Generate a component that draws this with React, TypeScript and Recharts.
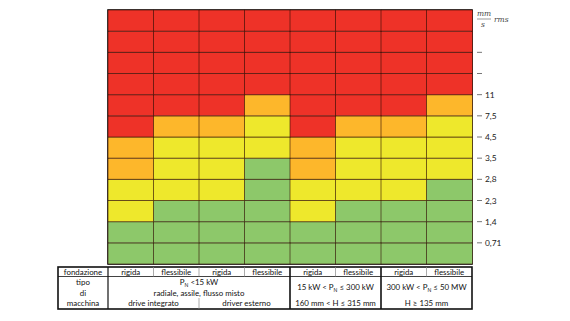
import React from 'react';
import { BarChart, Bar, XAxis, YAxis, Cell, Customized } from 'recharts';

// ---- data ----
const foundations = ['rigida', 'flessibile', 'rigida', 'flessibile', 'rigida', 'flessibile', 'rigida', 'flessibile'];
// number of rows (from bottom) in each zone per column
const greenRows = [2, 3, 3, 5, 2, 3, 3, 4];
const yellowRows = [2, 3, 3, 2, 2, 3, 3, 3];
const orangeRows = [2, 1, 1, 1, 2, 1, 1, 1];
const totalRows = 12;
const yTickValues = [1, 2, 3, 4, 5, 6, 7, 8, 9, 10];
const yTickLabels = ['0,71', '1,4', '2,3', '2,8', '3,5', '4,5', '7,5', '11', '', ''];

const COLORS = { green: '#8DC86A', yellow: '#EEE82C', orange: '#FDB72B', red: '#EE3228' };

const rowKeys = Array.from({ length: totalRows }, (_, i) => `r${i + 1}`);
const data = foundations.map((f, i) => {
  const o: any = { name: `${f}-${i}` };
  rowKeys.forEach((k) => (o[k] = 1));
  return o;
});

const colorFor = (col: number, row: number) => {
  const g = greenRows[col];
  const y = g + yellowRows[col];
  const o = y + orangeRows[col];
  if (row <= g) return COLORS.green;
  if (row <= y) return COLORS.yellow;
  if (row <= o) return COLORS.orange;
  return COLORS.red;
};

// ---- layout ----
const W = 570, H = 321;
const PL = 108, PT = 10, PR = 472, PB = 264;
const colW = (PR - PL) / foundations.length;
const FONT = 'Lato, "Liberation Sans", sans-serif';

const YTick = (props: any) => {
  const { x, y, payload } = props;
  const idx = yTickValues.indexOf(payload.value);
  const label = yTickLabels[idx] ?? '';
  return (
    <g>
      <line x1={x + 5} x2={x + 10} y1={y} y2={y} stroke="#777" strokeWidth={1} />
      <text x={x + 13} y={y} dy={3} fontSize={8.4} fontFamily={FONT} fill="#1a1a1a">
        {label}
      </text>
    </g>
  );
};

const Overlay = () => {
  const tTop = 267, tMid = 276.5, tBot = 309, tLeft = 58;
  const sep1 = PL + 4 * colW;
  const sep2 = PL + 6 * colW;
  const fs = 7.9;
  const txt = (x: number, y: number, s: React.ReactNode, anchor: any = 'middle') => (
    <text x={x} y={y} textAnchor={anchor} fontSize={fs} fontFamily={FONT} fill="#111">
      {s}
    </text>
  );
  return (
    <g>
      {/* outer border and group separators of grid */}
      <rect x={PL} y={PT} width={PR - PL} height={PB - PT} fill="none" stroke="#111" strokeWidth={1.6} />
      <line x1={sep1} x2={sep1} y1={PT} y2={PB} stroke="#111" strokeWidth={1.6} />
      <line x1={sep2} x2={sep2} y1={PT} y2={PB} stroke="#111" strokeWidth={1.6} />

      {/* unit label */}
      <text x={477} y={16} fontSize={7.5} fontStyle="italic" fontFamily="'DejaVu Serif', serif" fill="#444">mm</text>
      <line x1={477} x2={491} y1={19} y2={19} stroke="#555" strokeWidth={0.6} />
      <text x={481} y={27} fontSize={7.5} fontStyle="italic" fontFamily="'DejaVu Serif', serif" fill="#444">s</text>
      <text x={494} y={22} fontSize={7.5} fontStyle="italic" fontFamily="'DejaVu Serif', serif" fill="#444">rms</text>

      {/* table */}
      <rect x={tLeft} y={tTop} width={PR - tLeft} height={tBot - tTop} fill="white" stroke="#111" strokeWidth={1.6} />
      <line x1={tLeft} x2={PR} y1={tMid} y2={tMid} stroke="#111" strokeWidth={0.8} />
      <line x1={PL} x2={PL} y1={tTop} y2={tBot} stroke="#111" strokeWidth={1.2} />
      {foundations.map((_, i) =>
        i > 0 && i !== 4 && i !== 6 ? (
          <line key={i} x1={PL + i * colW} x2={PL + i * colW} y1={tTop} y2={tMid} stroke="#888" strokeWidth={0.7} />
        ) : null
      )}
      <line x1={sep1} x2={sep1} y1={tTop} y2={tBot} stroke="#111" strokeWidth={1.6} />
      <line x1={sep2} x2={sep2} y1={tTop} y2={tBot} stroke="#111" strokeWidth={1.6} />
      <line x1={PL + 2 * colW} x2={PL + 2 * colW} y1={298} y2={tBot} stroke="#888" strokeWidth={0.7} />

      {txt((tLeft + PL) / 2, 274.5, 'fondazione')}
      {foundations.map((f, i) => (
        <React.Fragment key={i}>{txt(PL + (i + 0.5) * colW, 274.5, f)}</React.Fragment>
      ))}
      {txt((tLeft + PL) / 2, 285, 'tipo')}
      {txt((tLeft + PL) / 2, 295.5, 'di')}
      {txt((tLeft + PL) / 2, 306, 'macchina')}

      {txt((PL + sep1) / 2, 285, <>P<tspan fontSize={5} dy={1.5}>N</tspan><tspan dy={-1.5}> &lt;15 kW</tspan></>)}
      {txt((PL + sep1) / 2, 295.5, 'radiale, assile, flusso misto')}
      {txt(PL + colW, 306, 'drive integrato')}
      {txt(PL + 3 * colW + 2, 306, 'driver esterno')}

      {txt((sep1 + sep2) / 2, 290, <>15 kW &lt; P<tspan fontSize={5} dy={1.5}>N</tspan><tspan dy={-1.5}> ≤ 300 kW</tspan></>)}
      {txt((sep1 + sep2) / 2, 306, '160 mm < H ≤ 315 mm')}
      {txt((sep2 + PR) / 2, 290, <>300 kW &lt; P<tspan fontSize={5} dy={1.5}>N</tspan><tspan dy={-1.5}> ≤ 50 MW</tspan></>)}
      {txt((sep2 + PR) / 2, 306, 'H ≥ 135 mm')}
    </g>
  );
};

export default function App() {
  return (
    <div style={{ position: 'absolute', left: 0, top: 0, width: W, height: H, background: 'white' }}>
      <BarChart
        width={W}
        height={H}
        data={data}
        margin={{ top: PT, left: PL, right: W - PR - 40, bottom: H - PB }}
        barCategoryGap={0}
        barGap={0}
      >
        <XAxis dataKey="name" hide />
        <YAxis
          orientation="right"
          type="number"
          domain={[0, totalRows]}
          ticks={yTickValues}
          width={40}
          axisLine={false}
          tickLine={false}
          tickSize={0}
          tickMargin={0}
          interval={0}
          tick={<YTick />}
        />
        {rowKeys.map((k, r) => (
          <Bar key={k} dataKey={k} stackId="a" isAnimationActive={false} stroke="rgba(50,15,5,0.6)" strokeWidth={1}>
            {data.map((_, c) => (
              <Cell key={c} fill={colorFor(c, r + 1)} />
            ))}
          </Bar>
        ))}
        <Customized component={Overlay} />
      </BarChart>
    </div>
  );
}
